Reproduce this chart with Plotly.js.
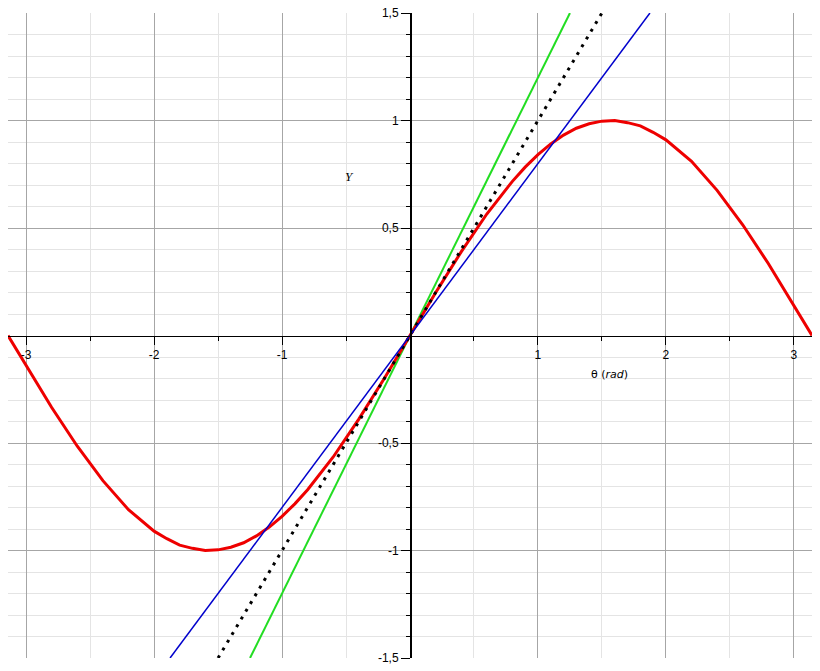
<!DOCTYPE html>
<html>
<head>
<meta charset="utf-8">
<script src="https://cdn.plot.ly/plotly-3.0.1.min.js"></script>
<style>html,body{margin:0;padding:0;background:#fff;}#chart{width:820px;height:671px;}</style>
</head>
<body>
<div id="chart"></div>
<script>
const sinX = [-3.1416, -3.0, -2.8, -2.6, -2.4, -2.2, -2.0, -1.9, -1.8, -1.7, -1.6, -1.5, -1.4, -1.3, -1.2, -1.1, -1.0, -0.9, -0.8, -0.6, -0.4, -0.2, 0,
              0.2, 0.4, 0.6, 0.8, 0.9, 1.0, 1.1, 1.2, 1.3, 1.4, 1.5, 1.6, 1.7, 1.8, 1.9, 2.0, 2.2, 2.4, 2.6, 2.8, 3.0, 3.1416];
const sinY = [0, -0.14, -0.335, -0.515, -0.675, -0.81, -0.91, -0.945, -0.975, -0.99, -1.0, -0.997, -0.985, -0.964, -0.932, -0.891, -0.841, -0.783, -0.717, -0.565, -0.389, -0.199, 0,
              0.199, 0.389, 0.565, 0.717, 0.783, 0.841, 0.891, 0.932, 0.964, 0.985, 0.997, 1.0, 0.99, 0.975, 0.945, 0.91, 0.81, 0.675, 0.515, 0.335, 0.14, 0];
// Straight lines through the origin
const blueX = [-1.875, 1.875];
const blueY = [-1.5, 1.5];
const greenX = [-1.25, 1.25];
const greenY = [-1.5, 1.5];
const dotX = [-1.5, 1.5];
const dotY = [-1.5, 1.5];
// Tick labels
const xTickVals = [-3, -2, -1, 1, 2, 3];
const xTickText = ['-3', '-2', '-1', '1', '2', '3'];
const xMinorVals = [-2.5, -1.5, -0.5, 0.5, 1.5, 2.5];
const yTickVals = [-1.5, -1, -0.5, 0.5, 1, 1.5];
const yTickText = ['-1,5', '-1', '-0,5', '0,5', '1', '1,5'];
const yMinorVals = [-1.4, -1.3, -1.2, -1.1, -0.9, -0.8, -0.7, -0.6, -0.4, -0.3, -0.2, -0.1, 0.1, 0.2, 0.3, 0.4, 0.6, 0.7, 0.8, 0.9, 1.1, 1.2, 1.3, 1.4];

const traces = [
  {x: greenX, y: greenY, mode: 'lines', line: {color: '#22dd22', width: 2}, hoverinfo: 'skip'},
  {x: sinX, y: sinY, mode: 'lines', line: {color: '#ee0000', width: 3}, hoverinfo: 'skip'},
  {x: dotX, y: dotY, mode: 'lines', line: {color: '#000000', width: 3, dash: '3px,6px'}, hoverinfo: 'skip'},
  {x: blueX, y: blueY, mode: 'lines', line: {color: '#0000cc', width: 1.5}, hoverinfo: 'skip'}
];

const tickFont = {family: 'Liberation Sans, Arial, sans-serif', size: 12, color: '#000'};

const layout = {
  width: 820, height: 671,
  margin: {l: 8, r: 8, t: 13, b: 13, pad: 0},
  paper_bgcolor: '#fff', plot_bgcolor: '#fff',
  showlegend: false,
  xaxis: {
    range: [-3.1416, 3.1416],
    anchor: 'free', position: 0.5,
    showline: true, linecolor: '#000', linewidth: 1.5,
    zeroline: false,
    tickmode: 'array', tickvals: xTickVals, ticktext: xTickText,
    ticks: 'outside', ticklen: 8, tickcolor: '#000', tickwidth: 1,
    tickfont: tickFont,
    showgrid: true, gridcolor: '#a6a6a6', gridwidth: 1,
    minor: {tickmode: 'array', tickvals: xMinorVals, ticks: 'outside', ticklen: 4, tickcolor: '#000', showgrid: true, gridcolor: '#e4e4e4', gridwidth: 1},
    fixedrange: true
  },
  yaxis: {
    range: [-1.5, 1.5],
    anchor: 'free', position: 0.5,
    showline: true, linecolor: '#000', linewidth: 1.5,
    zeroline: false,
    tickmode: 'array', tickvals: yTickVals, ticktext: yTickText,
    ticks: 'outside', ticklen: 9, tickcolor: '#000', tickwidth: 1,
    tickfont: tickFont,
    showgrid: true, gridcolor: '#a6a6a6', gridwidth: 1,
    minor: {tickmode: 'array', tickvals: yMinorVals, ticks: 'outside', ticklen: 4, tickcolor: '#000', showgrid: true, gridcolor: '#e4e4e4', gridwidth: 1},
    fixedrange: true
  },
  annotations: [
    {text: 'θ (<i>rad</i>)', x: 1.56, y: -0.18, xref: 'x', yref: 'y', showarrow: false,
     font: {family: 'DejaVu Sans, sans-serif', size: 11, color: '#000'}},
    {text: '<i>Y</i>', x: -0.47, y: 0.74, xref: 'x', yref: 'y', showarrow: false,
     font: {family: 'Liberation Serif, serif', size: 13, color: '#000'}}
  ]
};

Plotly.newPlot('chart', traces, layout, {displayModeBar: false, staticPlot: true});
</script>
</body>
</html>
